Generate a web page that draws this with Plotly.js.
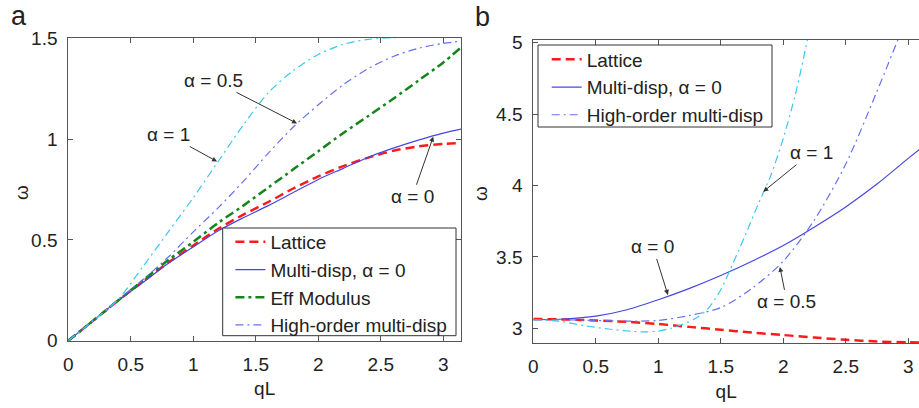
<!DOCTYPE html>
<html>
<head>
<meta charset="utf-8">
<script src="https://cdn.plot.ly/plotly-3.0.1.min.js"></script>
<style>
html,body{margin:0;padding:0;background:#fff;overflow:hidden;}
#chart{width:919px;height:408px;}
</style>
</head>
<body>
<div id="chart"></div>
<script>
// ---------- Panel a (acoustic branch) ----------
const qA = [0, 0.2, 0.4, 0.6, 0.8, 1.0, 1.2, 1.4, 1.6, 1.8, 2.0, 2.2, 2.4, 2.6, 2.8, 3.0, 3.1416];
const latticeA   = [0, 0.10, 0.20, 0.295, 0.388, 0.472, 0.555, 0.625, 0.688, 0.755, 0.815, 0.866, 0.908, 0.942, 0.964, 0.976, 0.98];
const multiDispA = [0, 0.10, 0.20, 0.29, 0.384, 0.465, 0.545, 0.61, 0.67, 0.735, 0.80, 0.855, 0.91, 0.955, 0.995, 1.03, 1.05];
const effModA    = [0, 0.10, 0.20, 0.30, 0.40, 0.49, 0.585, 0.67, 0.76, 0.85, 0.94, 1.03, 1.115, 1.20, 1.29, 1.38, 1.455];
const highHalfA  = [0, 0.10, 0.205, 0.305, 0.415, 0.54, 0.66, 0.79, 0.93, 1.06, 1.17, 1.27, 1.35, 1.41, 1.45, 1.475, 1.485];
const highOneA   = [0, 0.10, 0.205, 0.37, 0.54, 0.71, 0.89, 1.07, 1.23, 1.34, 1.42, 1.47, 1.495, 1.503, 1.505, 1.505, 1.505];

// ---------- Panel b (optical branch) ----------
const qB = [0, 0.25, 0.5, 0.75, 1.0, 1.25, 1.5, 1.75, 2.0, 2.25, 2.5, 2.75, 3.0, 3.1416];
const latticeB   = [3.065, 3.062, 3.055, 3.045, 3.03, 3.01, 2.99, 2.97, 2.953, 2.935, 2.92, 2.908, 2.902, 2.90];
const multiDispB = [3.06, 3.065, 3.085, 3.13, 3.20, 3.28, 3.37, 3.47, 3.58, 3.71, 3.85, 4.01, 4.19, 4.29];
const highHalfB  = [3.06, 3.06, 3.055, 3.05, 3.055, 3.09, 3.145, 3.28, 3.47, 3.76, 4.15, 4.66, 5.2, 5.5];
const qB1 = [0, 0.2, 0.4, 0.6, 0.8, 0.9, 1.0, 1.1, 1.2, 1.3, 1.4, 1.5, 1.6, 1.7, 1.8, 1.9, 2.0, 2.1, 2.2, 2.3];
const highOneB   = [3.06, 3.05, 3.02, 2.995, 2.978, 2.975, 2.98, 3.0, 3.03, 3.07, 3.14, 3.27, 3.46, 3.66, 3.87, 4.07, 4.33, 4.65, 5.05, 5.5];

const xTicks = [0, 0.5, 1, 1.5, 2, 2.5, 3];
const xTickText = ['0', '0.5', '1', '1.5', '2', '2.5', '3'];
const yTicksA = [0, 0.5, 1, 1.5];
const yTickTextA = ['0', '0.5', '1', '1.5'];
const yTicksB = [3, 3.5, 4, 4.5, 5];
const yTickTextB = ['3', '3.5', '4', '4.5', '5'];

const names = ['Lattice', 'Multi-disp, α = 0', 'Eff Modulus', 'High-order multi-disp'];

const RED = '#ff1a1a', BLUE = '#4646e6', GREEN = '#14851a', HBLUE = '#6670f5', CYAN = '#38c8f0';
const FONT = 'Liberation Sans, Arial, Helvetica, sans-serif';
const W = 919, H = 408;
const px = v => v / W, py = v => 1 - v / H;

function ln(color, width, dash) {
  const o = {color: color, width: width, shape: 'spline', smoothing: 0.8};
  if (dash) o.dash = dash;
  return o;
}
const DASH = '9px,5px', DASHDOT_THICK = '9px,4px,3px,4px', DASHDOT = '8px,4px,2px,4px';

const traces = [
  {x: qA, y: latticeA, name: names[0], mode: 'lines', line: ln(RED, 2.5, DASH), xaxis: 'x', yaxis: 'y', legend: 'legend'},
  {x: qA, y: multiDispA, name: names[1], mode: 'lines', line: ln(BLUE, 1.2), xaxis: 'x', yaxis: 'y', legend: 'legend'},
  {x: qA, y: effModA, name: names[2], mode: 'lines', line: ln(GREEN, 2.5, DASHDOT_THICK), xaxis: 'x', yaxis: 'y', legend: 'legend'},
  {x: qA, y: highHalfA, name: names[3], mode: 'lines', line: ln(HBLUE, 1.2, DASHDOT), xaxis: 'x', yaxis: 'y', legend: 'legend'},
  {x: qA, y: highOneA, name: 'α = 1', showlegend: false, mode: 'lines', line: ln(CYAN, 1.2, DASHDOT), xaxis: 'x', yaxis: 'y'},

  {x: qB, y: latticeB, name: names[0], mode: 'lines', line: ln(RED, 2.5, DASH), xaxis: 'x2', yaxis: 'y2', legend: 'legend2'},
  {x: qB, y: multiDispB, name: names[1], mode: 'lines', line: ln(BLUE, 1.2), xaxis: 'x2', yaxis: 'y2', legend: 'legend2'},
  {x: qB, y: highHalfB, name: names[3], mode: 'lines', line: ln(HBLUE, 1.2, DASHDOT), xaxis: 'x2', yaxis: 'y2', legend: 'legend2'},
  {x: qB1, y: highOneB, name: 'α = 1', showlegend: false, mode: 'lines', line: ln(CYAN, 1.2, DASHDOT), xaxis: 'x2', yaxis: 'y2'}
];

const axisCommon = {
  showline: true, linecolor: '#555', linewidth: 1, mirror: 'ticks',
  ticks: 'inside', ticklen: 5, tickcolor: '#555', tickwidth: 1,
  showgrid: false, zeroline: false,
  tickfont: {family: FONT, size: 19, color: '#222'},
  ticklabelstandoff: 6
};

const legendCommon = {
  font: {family: FONT, size: 19, color: '#222'},
  bgcolor: 'rgba(0,0,0,0)', borderwidth: 0,
  xanchor: 'left', yanchor: 'top', tracegroupgap: 0
};

const annFont = {family: FONT, size: 19, color: '#222'};
function arrow(xref, yref, x, y, ax, ay, text) {
  return {xref: xref, yref: yref, x: x, y: y, ax: ax, ay: ay, text: text,
    showarrow: true, arrowhead: 2, arrowsize: 1, arrowwidth: 1, arrowcolor: '#333',
    font: annFont};
}
function label(x, y, text, size, angle) {
  return {xref: 'paper', yref: 'paper', x: px(x), y: py(y), text: text, showarrow: false,
    xanchor: 'center', yanchor: 'middle', textangle: angle || 0,
    font: {family: FONT, size: size, color: '#222'}};
}
function box(x0, y0, x1, y1) {
  return {type: 'rect', xref: 'paper', yref: 'paper', x0: px(x0), x1: px(x1), y0: py(y1), y1: py(y0),
    line: {color: '#333', width: 1}, fillcolor: '#fff', layer: 'above'};
}

const layout = {
  width: W, height: H,
  margin: {l: 0, r: 0, t: 0, b: 0},
  paper_bgcolor: '#fff', plot_bgcolor: '#fff',
  font: {family: FONT, color: '#222'},
  xaxis: Object.assign({}, axisCommon, {
    domain: [px(68.3), px(461)], range: [0, 3.1416],
    tickvals: xTicks, ticktext: xTickText,
    title: {text: 'qL', font: {family: FONT, size: 19, color: '#222'}, standoff: 8}
  }),
  yaxis: Object.assign({}, axisCommon, {
    domain: [py(340.7), py(38.3)], range: [0, 1.5],
    tickvals: yTicksA, ticktext: yTickTextA
  }),
  xaxis2: Object.assign({}, axisCommon, {
    anchor: 'y2',
    domain: [px(533.3), 1.0], range: [0, 3.086],
    tickvals: xTicks, ticktext: xTickText,
    title: {text: 'qL', font: {family: FONT, size: 19, color: '#222'}, standoff: 8}
  }),
  yaxis2: Object.assign({}, axisCommon, {
    anchor: 'x2', mirror: false,
    domain: [py(343.3), py(40)], range: [2.895, 5.019],
    tickvals: yTicksB, ticktext: yTickTextB
  }),
  legend: Object.assign({}, legendCommon, {x: px(230.4), y: py(223)}),
  legend2: Object.assign({}, legendCommon, {x: px(546.7), y: py(40.5)}),
  shapes: [box(222.7, 228, 456, 335.7), box(538, 45, 772, 127)],
  annotations: [
    arrow('x', 'y', 1.83, 1.078, -84, -43, 'α = 0.5'),
    arrow('x', 'y', 1.19, 0.889, -49, -27, 'α = 1'),
    arrow('x', 'y', 2.92, 1.012, -21, 60, 'α = 0'),
    arrow('x2', 'y2', 1.84, 3.957, 48, -39, 'α = 1'),
    arrow('x2', 'y2', 1.077, 3.234, -15, -48, 'α = 0'),
    arrow('x2', 'y2', 1.973, 3.43, 7, 35, 'α = 0.5'),
    label(21, 193, 'ω', 19, -90),
    label(480, 194, 'ω', 19, -90),
    label(19, 16, 'a', 27),
    label(482, 17, 'b', 27)
  ]
};

Plotly.newPlot('chart', traces, layout, {displayModeBar: false, staticPlot: true});
</script>
</body>
</html>
